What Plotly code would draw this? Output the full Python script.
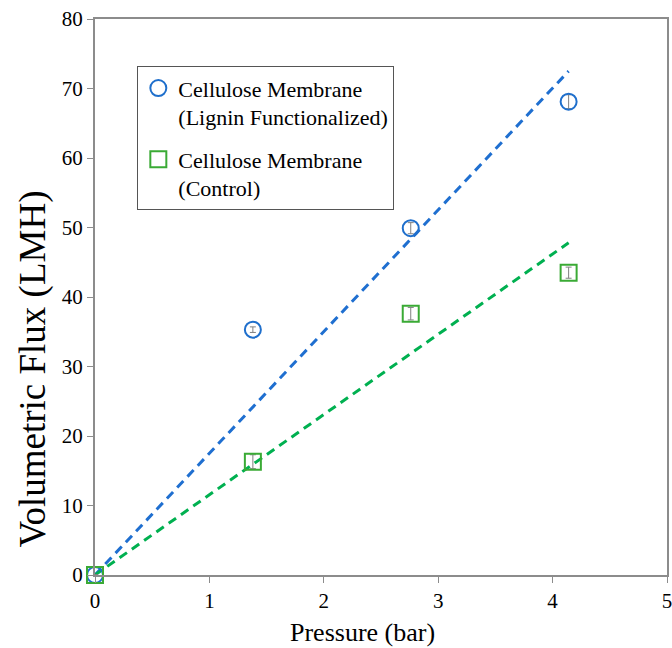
import plotly.graph_objects as go

pressure = [0, 1.38, 2.76, 4.14]
lignin_flux = [0, 35.3, 49.9, 68.1]
lignin_err = [0, 0.4, 0.8, 1.0]
control_flux = [0, 16.3, 37.6, 43.5]
control_err = [0, 1.0, 0.9, 0.8]

trend_x = [0, 4.14]
lignin_trend = [0, 72.5]
control_trend = [0, 47.8]

x_ticks = [0, 1, 2, 3, 4, 5]
y_ticks = [0, 10, 20, 30, 40, 50, 60, 70, 80]

BLUE = "#1f6fcc"
BLUE_LINE = "#1f6fd0"
GREEN = "#3aaa35"
GREEN_LINE = "#00b050"
FONT = "Liberation Serif, Times New Roman, serif"

fig = go.Figure()
fig.add_trace(go.Scatter(x=trend_x, y=lignin_trend, mode="lines",
                         line=dict(color=BLUE_LINE, width=3, dash="9px,6px"),
                         showlegend=False, hoverinfo="skip", cliponaxis=False))
fig.add_trace(go.Scatter(x=trend_x, y=control_trend, mode="lines",
                         line=dict(color=GREEN_LINE, width=3, dash="9px,6px"),
                         showlegend=False, hoverinfo="skip", cliponaxis=False))
fig.add_trace(go.Scatter(x=pressure, y=lignin_flux, mode="markers", cliponaxis=False,
                         name="Cellulose Membrane<br>(Lignin Functionalized)", legendgroup="a",
                         marker=dict(symbol="circle-open", size=16, color=BLUE, line=dict(width=2)),
                         error_y=dict(type="data", array=lignin_err, color="#808080", thickness=1, width=3)))
fig.add_trace(go.Scatter(x=pressure, y=control_flux, mode="markers", cliponaxis=False,
                         name="Cellulose Membrane<br>(Control)", legendgroup="b",
                         marker=dict(symbol="square-open", size=16, color=GREEN, line=dict(width=2)),
                         error_y=dict(type="data", array=control_err, color="#808080", thickness=1, width=3)))

fig.update_layout(
    width=672, height=648,
    margin=dict(l=94.5, r=5, t=19, b=73, autoexpand=False),
    paper_bgcolor="white", plot_bgcolor="white",
    font=dict(family=FONT, size=21, color="black"),
    legend=dict(x=0.074, y=0.915, xanchor="left", yanchor="top", valign="top",
                bordercolor="#555555", borderwidth=1, bgcolor="white",
                font=dict(family=FONT, size=22), tracegroupgap=11, traceorder="grouped",
                itemwidth=30),
    xaxis=dict(range=[0, 5], tickvals=x_ticks, showline=True, linecolor="#8c8c8c", linewidth=2,
               mirror=True, ticks="outside", ticklen=6, tickcolor="#8c8c8c", showgrid=False,
               zeroline=False, automargin=False, tickfont=dict(size=21),
               ticklabeloverflow="allow"),
    yaxis=dict(range=[0, 80], tickvals=y_ticks, showline=True, linecolor="#8c8c8c", linewidth=2,
               mirror=True, ticks="outside", ticklen=6, tickcolor="#8c8c8c", showgrid=False,
               zeroline=False, automargin=False, tickfont=dict(size=21),
               ticklabeloverflow="allow"),
    annotations=[
        dict(text="Pressure (bar)", xref="paper", yref="paper", x=0.467, y=-0.104,
             xanchor="center", yanchor="middle", showarrow=False, font=dict(size=26)),
        dict(text="Volumetric Flux (LMH)", xref="paper", yref="paper", x=-0.108, y=0.37,
             xanchor="center", yanchor="middle", showarrow=False, textangle=-90,
             font=dict(size=37)),
    ],
)
fig.write_html("out.html")
